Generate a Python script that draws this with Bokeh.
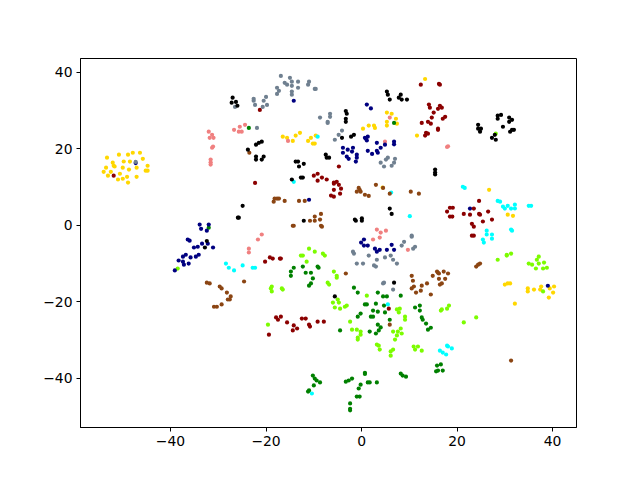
from bokeh.plotting import figure
from bokeh.models import Range1d, FixedTicker
from bokeh.embed import file_html
from bokeh.resources import INLINE

tick_values = [-40, -20, 0, 20, 40]
tick_labels = ["\u221240", "\u221220", "0", "20", "40"]

gold = [(-53.3,17.7),(-50.8,18.5),(-48.9,18.5),(-47.9,19.0),(-46.4,19.0),(-45.8,17.4),(-44.8,15.6),(-45.2,14.3),(-44.8,14.3),
(-52.1,16.4),(-51.7,15.4),(-51.9,15.6),(-49.8,16.7),(-48.5,16.7),(-50.0,15.1),(-48.7,14.6),(-47.1,15.1),(-53.5,15.1),(-54.0,14.0),
(-52.5,14.0),(-50.6,13.5),(-53.1,13.0),(-49.1,12.7),(-47.1,12.7),(-50.0,12.2),(-51.0,12.0),(-48.9,11.2),
(-16.5,23.2),(-15.6,22.9),(-14.4,22.1),(-13.8,23.5),(-12.9,24.2),(-11.2,22.1),(-10.6,22.9),(-9.6,23.5),(-10.2,21.4),(-9.8,21.4),
(0.3,25.3),(1.5,26.1),(2.6,26.1),(2.8,25.5),(5.3,29.5),(6.3,29.2),(7.2,27.9),(5.3,27.1),(5.3,26.1),(7.4,26.6),(11.6,23.5),(13.3,38.3),
(4.4,9.9),(26.7,9.3),(30.6,2.8),(31.7,2.5),(30.0,-15.5),(30.6,-15.2),(31.1,-15.2),(34.8,-16.5),(34.8,-17.3),(36.1,-16.8),(37.6,-16.0),
(37.4,-16.8),(39.4,-16.5),(40.3,-16.0),(40.1,-17.6),(39.2,-18.9),(32.1,-20.5)]

chartreuse = [(28.1,24.0),(-38.5,-11.3),(-11.0,-6.1),(-9.8,-6.9),(-8.1,-7.4),(-7.7,-7.9),(-12.7,-7.9),(-12.3,-7.9),(-11.5,-9.5),(-5.8,-12.1),
(-5.2,-13.2),(-5.2,-13.7),(-7.1,-15.0),(-6.8,-15.5),(-18.8,-16.0),(-19.0,-16.5),(-18.8,-17.3),(-16.7,-16.5),(-16.5,-16.8),(1.1,-18.4),
(-5.0,-19.4),(-4.75,-20.2),(-6.0,-20.2),(-5.6,-21.5),(-4.5,-21.8),(-3.5,-21.3),(-3.1,-21.0),(7.4,-22.0),(8.0,-21.8),(7.8,-22.8),
(9.1,-23.9),(9.1,-24.7),(-2.4,-25.2),(-19.6,-26.0),(-2.0,-27.3),(-1.0,-27.3),(-0.2,-27.8),(-0.2,-28.6),(-0.8,-29.4),(-0.8,-29.9),
(8.2,-27.0),(6.6,-27.8),(7.6,-27.8),(8.4,-28.3),(7.4,-28.8),(7.0,-29.9),(3.2,-31.2),(3.6,-31.5),(3.8,-32.5),(6.6,-32.5),(6.1,-33.0),
(6.1,-34.1),(10.9,-31.7),(11.8,-31.7),(11.2,-32.5),(12.6,-32.8),(16.6,-22.3),(16.8,-22.0),(17.9,-21.8),(18.3,-21.0),(21.4,-25.4),(24.0,-24.1),
(28.5,-9.0),(30.4,-7.7),(30.4,-7.9),(31.3,-7.4),(37.1,-8.2),(36.7,-9.0),(37.1,-10.0),(38.2,-9.75),(35.0,-10.0),(35.7,-10.3),(36.5,-11.3),
(38.0,-11.3),(38.8,-11.1),(38.0,-17.3)]

green = [(-23.6,25.5),(6.8,26.8),(-32.0,-0.6),(-14.2,-11.1),(-14.8,-12.1),(-14.8,-13.2),(-12.3,-10.8),(-11.7,-12.4),(-10.6,-12.4),(-9.2,-10.8),
(-9.0,-11.1),(-10.2,-13.9),(-10.6,-15.2),(-11.0,-15.8),(-1.6,-16.3),(-0.8,-17.6),(3.4,-17.6),(4.5,-18.6),(5.3,-18.6),(8.2,-18.4),
(0.7,-20.7),(1.1,-20.7),(3.0,-20.5),(4.7,-21.0),(2.4,-22.3),(3.4,-22.6),(4.9,-22.8),(-0.2,-23.1),(-0.8,-23.9),(1.95,-23.9),(2.4,-23.9),
(5.9,-24.7),(3.4,-26.0),(4.0,-26.7),(3.6,-27.5),(3.0,-28.3),(1.7,-27.8),(-4.5,-27.5),(-10.2,-39.3),(-9.8,-40.1),(-9.4,-40.6),(-8.7,-41.1),
(-10.0,-41.9),(-11.0,-43.2),(-11.2,-43.5),(0.7,-38.6),(0.7,-38.9),(-2.0,-40.1),(-2.7,-40.6),(-3.3,-40.9),(1.3,-41.1),(1.7,-41.1),(3.2,-41.1),
(-0.2,-41.7),(-0.6,-42.7),(-1.0,-44.8),(-0.4,-44.8),(-2.4,-46.6),(-2.4,-48.0),(-2.4,-48.4),(8.2,-38.8),(8.6,-39.3),(9.3,-39.6),
(11.2,-21.5),(12.2,-21.0),(12.2,-22.3),(12.6,-24.1),(12.8,-24.7),(13.5,-25.7),(14.5,-26.8),(13.9,-27.3),(15.8,-36.7),(16.6,-36.4),
(16.0,-38.0),(15.6,-38.2),(17.0,-38.0)]

cyan = [(-9.2,23.2),(-14.2,11.4),(6.2,8.6),(10.1,2.4),(-28.4,-10.0),(-27.8,-11.1),(-26.7,-11.8),(-24.9,-10.5),(-22.8,-11.1),(-22.3,-11.1),
(21.2,10.1),(21.6,9.8),(28.5,6.4),(29.0,6.2),(29.6,4.9),(30.0,4.4),(30.6,5.1),(31.3,4.4),(32.1,5.4),(32.1,4.4),(35.0,5.1),(35.5,5.1),
(31.3,-1.1),(31.5,-1.4),(26.2,-1.4),(26.2,-2.4),(27.3,-2.4),(27.3,-3.5),(25.4,-3.7),(25.6,-4.5),(5.5,-20.7),(-10.4,-44.0),
(17.9,-31.5),(18.1,-31.7),(18.9,-32.2),(16.4,-32.8),(17.0,-33.3),(17.7,-33.8)]

salmon = [(-32.0,24.5),(-31.3,23.7),(-31.8,22.9),(-31.0,22.9),(-31.1,20.6),(-31.3,20.3),(-31.6,17.2),(-31.6,16.5),(-31.6,15.9),(-26.7,25.0),
(-25.5,25.8),(-24.4,26.3),(-25.7,24.5),(-25.1,24.5),(-15.4,22.1),(5.9,28.2),(4.9,21.9),(18.1,20.7),(17.9,20.5),(-20.9,-2.4),(-21.7,-3.7),
(-23.6,-6.1),(-23.6,-7.1),(3.2,-1.1),(4.0,-1.9),(5.1,-1.4),(3.8,-3.2),(2.4,-3.7),(9.7,-6.4)]

navy = [(-47.3,16.3),(-14.2,32.6),(1.1,31.6),(1.95,30.6),(0.9,22.7),(1.3,23.2),(0.7,22.9),(1.1,22.2),(-3.9,20.3),(-2.9,19.8),(-1.8,20.3),
(-2.0,19.3),(-3.9,19.0),(-3.1,18.0),(-2.7,17.4),(-1.0,18.5),(-1.0,17.7),(-1.2,16.7),(3.2,21.6),(4.9,21.1),(4.0,20.3),(3.2,19.5),(1.3,19.5),
(2.2,18.7),(3.4,19.0),(6.8,21.9),(6.8,21.2),(-11.0,6.7),(-33.9,0.2),(-32.0,0.2),(-33.6,-0.9),(-32.4,-1.4),(-36.4,-3.7),(-36.0,-4.0),
(-33.4,-4.8),(-32.2,-4.8),(-34.3,-5.6),(-35.1,-5.8),(-31.1,-5.8),(-34.1,-7.7),(-34.7,-8.2),(-35.8,-8.4),(-36.8,-7.7),(-37.4,-8.2),
(-38.3,-9.2),(-37.4,-9.5),(-37.2,-10.3),(-36.2,-10.0),(-39.1,-11.8),(0.5,-3.7),(-0.1,-4.5),(0.5,-5.3),(1.3,-5.3),(2.8,-6.1),(3.8,-6.4),
(3.2,-6.9),(5.3,-6.4),(6.3,-5.1),(6.8,-6.4),(22.7,4.4),(39.0,-15.8)]

dark_red = [(-51.9,13.0),(-21.3,30.2),(-4.75,15.4),(-10.0,13.0),(-9.2,13.5),(-8.3,12.5),(-9.2,11.7),(-7.3,12.0),(-5.8,11.2),(-5.2,11.4),
(12.4,36.8),(16.2,37.0),(16.4,36.8),(14.1,31.6),(14.3,30.8),(16.4,31.3),(16.0,30.5),(16.8,30.8),(15.1,29.5),(14.7,28.2),(17.5,28.4),(17.0,27.9),
(13.9,27.1),(14.5,26.6),(12.6,26.8),(16.0,25.3),(16.0,25.0),(13.5,24.2),(13.9,24.0),(13.3,23.5),(-22.3,11.1),(-5.8,10.9),(-4.75,10.6),
(-4.3,9.6),(-5.8,9.3),(-6.4,7.8),(-5.8,7.5),(-4.5,8.3),(-19.2,-8.4),(-18.6,-8.7),(-17.1,-8.7),(-16.9,-8.7),(-20.2,-9.5),(24.6,6.4),
(18.5,4.6),(19.1,4.6),(23.5,4.4),(17.9,3.6),(21.4,3.0),(22.7,2.8),(24.6,3.0),(24.8,2.8),(26.5,3.6),(18.5,2.3),(19.0,2.3),(27.3,1.5),(25.4,1.0),
(23.1,0.4),(23.5,-0.35),(23.1,-2.7),(23.5,-2.7),(-17.9,-24.1),(-17.5,-24.7),(-16.9,-23.9),(-15.6,-25.4),(-14.2,-26.2),(-13.5,-27.0),
(-14.4,-27.5),(-12.5,-24.4),(-11.7,-24.4),(-11.0,-26.0),(-10.8,-26.5),(-9.2,-25.2),(-7.9,-25.2),(-19.4,-28.6),(5.7,-21.8)]

brown = [(-23.5,19.0),(-0.6,9.8),(-0.4,9.3),(-1.0,8.8),(-0.2,8.8),(0.7,8.0),(1.5,7.7),(3.0,10.6),(4.5,9.8),(5.9,8.3),(10.3,8.8),(12.0,8.3),
(-18.2,7.0),(-17.7,7.0),(-17.3,7.0),(-18.4,6.2),(-16.1,6.4),(-13.1,6.4),(-11.9,6.4),(-8.5,3.0),(-9.8,2.3),(-8.7,1.5),(-9.8,1.2),(-10.8,1.2),
(-8.5,-0.1),(-8.3,-0.35),(-14.4,-0.1),(-14.2,-0.1),(-3.3,-12.6),(10.5,-13.2),(10.75,-14.5),(10.95,-16.0),(10.5,-16.5),(11.4,-17.6),(12.4,-17.1),
(24.8,-10.0),(24.4,-10.3),(24.0,-10.8),(15.8,-12.1),(16.0,-12.4),(16.2,-12.6),(17.2,-12.1),(18.1,-12.6),(14.9,-13.2),(16.2,-14.0),(17.5,-14.0),
(13.7,-15.2),(12.6,-15.8),(16.4,-15.5),(16.8,-15.2),(14.5,-18.1),(-32.4,-15.0),(-31.8,-15.2),(-29.7,-16.0),(-29.3,-16.5),(-28.2,-17.6),
(-27.4,-18.6),(-27.6,-19.4),(-28.0,-19.4),(-24.6,-14.7),(-29.3,-20.7),(-30.9,-21.3),(-30.3,-21.3),(5.9,-26.0),(31.3,-35.4)]

slate = [(-26.5,31.0),(-47.3,16.6),(-16.9,39.1),(-15.0,38.6),(-16.1,37.3),(-15.6,36.8),(-14.6,37.6),(-14.6,36.5),(-13.3,37.6),(-13.3,36.0),(-14.6,35.0),
(-14.6,34.2),(-17.7,36.0),(-17.3,35.2),(-17.7,34.4),(-11.0,37.6),(-11.2,36.8),(-9.8,35.7),(-9.6,35.7),(-22.6,33.1),(-22.6,32.6),(-20.0,33.6),
(-20.5,32.6),(-22.3,31.5),(-19.8,31.5),(-20.7,31.0),(-21.9,25.5),(-8.7,28.2),(-6.6,29.2),(-6.6,28.4),(-7.1,27.1),(-7.1,26.8),(-4.1,24.8),
(-4.8,23.7),(-5.6,22.4),(5.5,17.7),(5.1,17.2),(7.0,17.4),(4.0,16.4),(6.8,16.4),(6.3,15.6),(4.7,15.4),(-1.8,-6.9),(-1.6,-7.4),(1.5,-7.9),
(-1.0,-10.0),(0.3,-10.0),(2.6,-10.5),(3.0,-10.8),(3.2,-9.0),(4.9,-8.4),(6.1,-7.9),(6.6,-9.0),(7.4,-10.0),(8.4,-5.3),(8.9,-4.3),(10.5,-2.7),
(10.5,-2.96),(11.2,-5.6),(10.8,-6.1),(4.5,-15.2),(4.7,-15.0),(6.6,-16.8)]

black = [(-27.0,33.4),(-26.3,32.3),(-27.2,32.1),(-26.0,31.3),(-23.8,19.8),(5.3,35.0),(5.5,34.2),(5.9,32.9),(8.2,34.2),(7.8,33.4),(8.4,32.9),(9.5,32.9),
(-3.3,29.9),(-3.1,29.2),(-3.3,27.9),(-3.3,27.1),(-22.1,21.1),(-21.5,21.6),(-20.9,21.9),(-4.1,22.9),(-2.2,23.2),(-1.6,23.7),(-22.1,18.0),(-22.1,17.2),
(-20.5,18.0),(-20.9,17.2),(-7.5,18.5),(-7.3,17.7),(-6.8,17.7),(-13.8,16.7),(-13.3,16.7),(-12.1,16.1),(-13.1,15.4),(-14.6,12.0),(-12.7,12.5),(-12.3,12.5),
(15.4,14.6),(15.4,13.8),(15.4,13.3),(24.4,26.3),(24.4,25.3),(25.0,25.3),(24.8,24.5),(28.5,28.7),(29.2,28.9),(28.5,27.9),(30.9,28.2),(31.5,27.6),(30.9,27.1),
(29.6,25.8),(31.1,24.5),(31.5,25.0),(31.9,25.0),(27.9,23.7),(27.3,22.9),(28.1,22.4),(-24.9,5.1),(-25.9,2.0),(-25.7,2.0),(-32.4,-4.1),(-32.8,-5.8),
(-12.1,1.2),(-1.4,1.5),(-1.2,1.2),(0.06,1.8),(0.06,1.2),(5.9,4.4),(6.3,3.0),(6.8,-15.0),(-5.6,-18.6)]

series = [(gold,"#ffd700"),(chartreuse,"#7cfc00"),(green,"#008000"),(cyan,"#00ffff"),(salmon,"#f08080"),
          (navy,"#000080"),(dark_red,"#8b0000"),(brown,"#8b4513"),(slate,"#708090"),(black,"#000000")]

p = figure(width=632, height=472, output_backend="svg", toolbar_location=None,
           x_range=Range1d(-58.85, 45.0), y_range=Range1d(-52.9, 43.66),
           min_border_left=80, min_border_right=56, min_border_top=58, min_border_bottom=45)
p.grid.visible = False
p.outline_line_color = "black"
p.outline_line_width = 1
p.background_fill_color = "white"
for ax in (p.xaxis[0], p.yaxis[0]):
    ax.ticker = FixedTicker(ticks=tick_values)
    ax.major_label_overrides = dict(zip(tick_values, tick_labels))
    ax.major_label_text_font = "DejaVu Sans"
    ax.major_label_text_font_size = "13.9px"
    ax.major_label_text_color = "black"
    ax.major_tick_in = 0
    ax.major_tick_out = 4
    ax.major_tick_line_color = "black"
    ax.minor_tick_line_color = None
    ax.axis_line_color = "black"
    ax.major_label_standoff = 4

for pts, col in series:
    p.scatter([a for a, b in pts], [b for a, b in pts], size=4.2, color=col, line_color=None)

open("out.html", "w").write(file_html(p, INLINE))
